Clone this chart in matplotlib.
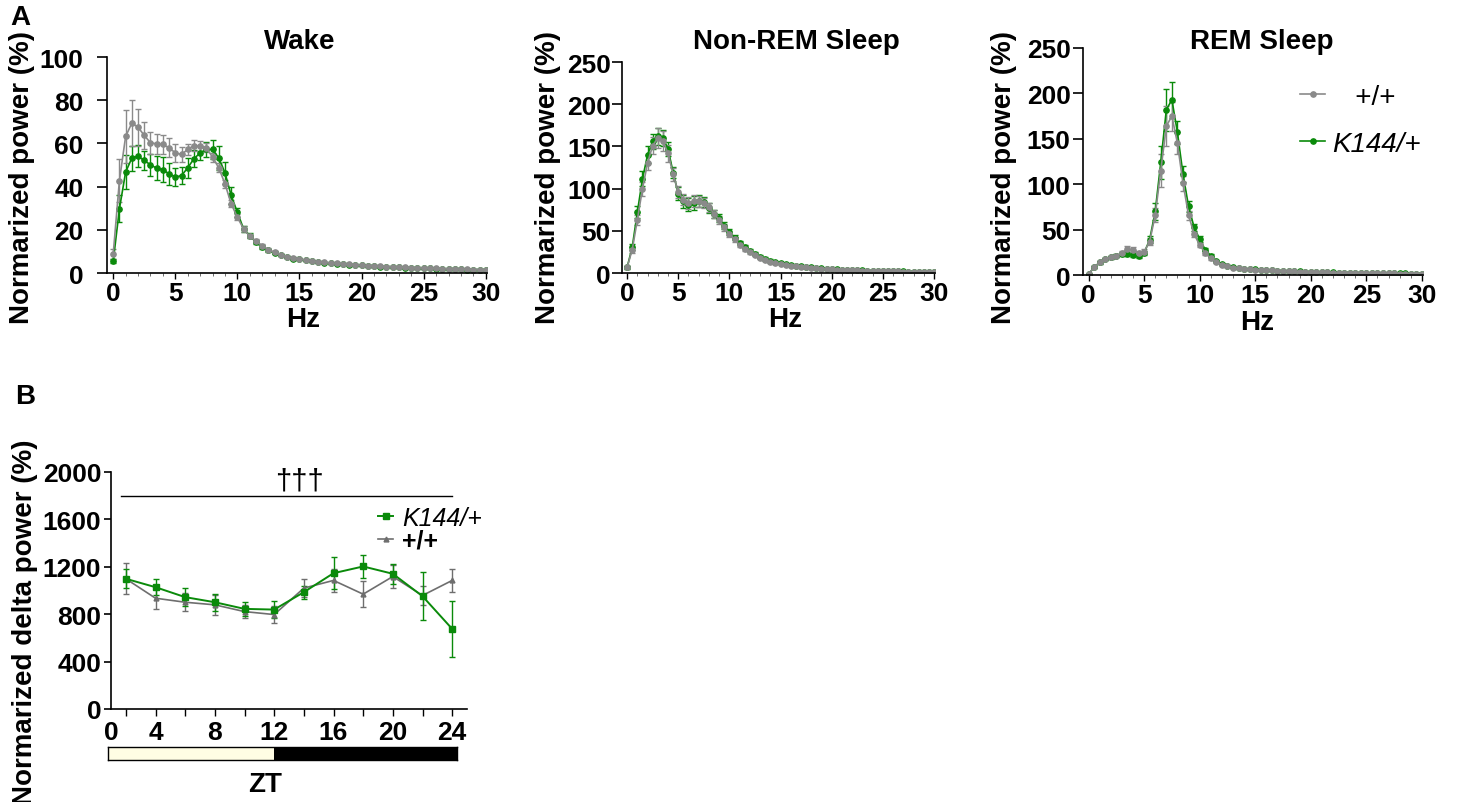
import numpy as np
import matplotlib
matplotlib.use("Agg")
import matplotlib.pyplot as plt

plt.rcParams['font.family'] = ['Liberation Sans', 'DejaVu Sans']
plt.rcParams['font.weight'] = 'bold'

# ---------------- data ----------------
# power spectra, 0.5 Hz bins from 0 to 30 Hz
freq = np.arange(0, 30.5, 0.5)

wake_wt = [8.8, 42.8, 63.2, 69.4, 67.5, 63.7, 60.3, 59.8, 59.5, 58.0,
           55.6, 54.9, 57.2, 59.0, 58.6, 58.0, 53.6, 48.7, 41.3, 32.0,
           25.8, 20.4, 17.0, 14.7, 12.7, 10.8, 9.6, 8.5, 7.6, 6.8,
           6.5, 6.0, 5.6, 5.3, 4.9, 4.6, 4.4, 4.2, 4.0, 3.8,
           3.6, 3.4, 3.3, 3.1, 3.0, 2.9, 2.7, 2.6, 2.5, 2.4,
           2.3, 2.2, 2.1, 2.0, 1.9, 1.8, 1.8, 1.7, 1.6, 1.6,
           1.5]
wake_wt_sem = [2.5, 10.0, 12.3, 10.5, 8.5, 6.3, 5.0, 4.6, 4.5, 4.3,
               4.0, 3.3, 2.7, 2.5, 2.3, 2.0, 2.0, 2.0, 1.8, 1.6,
               1.4, 1.2, 1.0, 0.9, 0.8, 0.7, 0.6, 0.5, 0.5, 0.4] + [0.3] * 31
wake_k144 = [5.4, 29.7, 46.7, 53.2, 54.1, 52.1, 50.1, 48.5, 47.8, 45.9,
             44.4, 45.1, 48.7, 52.9, 55.6, 57.2, 57.2, 53.3, 46.4, 35.9,
             28.1, 20.4, 17.3, 14.2, 11.9, 10.5, 9.3, 8.3, 7.4, 6.7,
             6.3, 5.8, 5.4, 5.1, 4.8, 4.5, 4.3, 4.1, 3.9, 3.7,
             3.5, 3.3, 3.2, 3.0, 2.9, 2.8, 2.6, 2.5, 2.4, 2.3,
             2.2, 2.1, 2.0, 1.9, 1.8, 1.8, 1.7, 1.6, 1.6, 1.5,
             1.5]
wake_k144_sem = [1.0, 6.2, 8.0, 5.8, 5.0, 4.5, 5.1, 5.6, 5.9, 5.0,
                 4.2, 3.9, 4.5, 3.9, 3.4, 3.4, 4.2, 5.6, 5.0, 3.9,
                 2.0, 1.5, 1.2, 1.0, 0.9, 0.8, 0.7, 0.6, 0.5, 0.5] + [0.3] * 31

nrem_wt = [6.7, 27.7, 62.9, 99.7, 130.5, 151.0, 160.0, 156.0, 142.0, 117.0,
           95.7, 87.0, 83.0, 85.0, 85.0, 83.0, 78.0, 70.0, 63.0, 54.0,
           46.0, 40.0, 33.0, 28.5, 24.5, 21.4, 17.8, 15.4, 13.4, 11.9,
           10.7, 9.9, 8.7, 7.9, 7.1, 6.7, 6.3, 5.8, 5.3, 4.9,
           4.5, 4.1, 3.8, 3.5, 3.2, 3.0, 2.8, 2.6, 2.4, 2.2,
           2.1, 2.0, 1.9, 1.8, 1.7, 1.6, 1.5, 1.4, 1.3, 1.3,
           1.2]
nrem_wt_sem = [1.5, 3.5, 6.0, 8.0, 9.0, 10.0, 12.0, 12.0, 10.0, 8.0,
               7.0, 7.0, 7.0, 7.0, 6.5, 6.0, 5.5, 5.0, 4.5, 4.0,
               3.5, 3.0, 2.5, 2.2, 2.0, 1.8, 1.6, 1.4, 1.2, 1.0] + [0.6] * 31
nrem_k144 = [6.7, 30.5, 72.0, 111.5, 140.0, 156.0, 162.0, 160.0, 147.0, 119.0,
             94.0, 85.0, 81.0, 83.0, 85.0, 84.0, 77.0, 70.0, 65.0, 56.0,
             49.0, 42.0, 36.0, 30.5, 26.5, 23.0, 19.5, 17.0, 14.8, 13.0,
             11.7, 10.6, 9.5, 8.6, 7.8, 7.2, 6.7, 6.2, 5.7, 5.2,
             4.8, 4.4, 4.1, 3.8, 3.5, 3.2, 3.0, 2.8, 2.6, 2.4,
             2.3, 2.2, 2.0, 1.9, 1.8, 1.7, 1.6, 1.5, 1.4, 1.4,
             1.3]
nrem_k144_sem = [1.5, 3.5, 7.0, 9.0, 10.0, 9.0, 10.0, 10.0, 8.0, 7.0,
                 8.0, 8.0, 8.0, 8.0, 7.0, 6.0, 5.5, 5.0, 4.5, 4.0,
                 3.5, 3.0, 2.5, 2.2, 2.0, 1.8, 1.6, 1.4, 1.2, 1.0] + [0.6] * 31

rem_wt = [1.0, 8.4, 14.0, 17.6, 19.5, 21.3, 24.2, 28.6, 27.9, 24.2,
          25.7, 36.7, 66.0, 115.0, 164.0, 175.0, 145.0, 101.0, 66.0, 45.0,
          33.0, 24.2, 18.4, 14.0, 11.4, 9.5, 8.1, 7.3, 6.6, 6.2,
          5.9, 5.6, 5.3, 5.0, 4.7, 4.4, 4.1, 3.9, 3.7, 3.5,
          3.3, 3.1, 3.0, 2.8, 2.7, 2.6, 2.5, 2.4, 2.3, 2.2,
          2.1, 2.0, 1.9, 1.8, 1.8, 1.7, 1.6, 1.6, 1.5, 1.5,
          1.4]
rem_wt_sem = [0.5, 1.0, 1.5, 1.5, 1.5, 1.5, 2.0, 3.0, 3.0, 2.5,
              2.5, 4.0, 8.0, 18.0, 22.0, 16.0, 12.0, 8.0, 5.0, 3.5,
              2.5, 2.0, 1.5, 1.2, 1.0, 0.8] + [0.5] * 35
rem_k144 = [1.0, 8.4, 14.0, 17.6, 19.5, 21.3, 23.0, 23.0, 22.0, 20.6,
            24.2, 39.0, 70.0, 124.0, 182.0, 193.0, 157.0, 111.0, 75.6, 52.5,
            39.6, 27.9, 21.3, 15.8, 12.1, 10.3, 8.4, 7.6, 6.9, 6.4,
            6.1, 5.8, 5.5, 5.2, 4.9, 4.6, 4.3, 4.1, 3.9, 3.7,
            3.5, 3.3, 3.1, 3.0, 2.9, 2.7, 2.6, 2.5, 2.4, 2.3,
            2.2, 2.1, 2.0, 1.9, 1.9, 1.8, 1.7, 1.7, 1.6, 1.6,
            1.5]
rem_k144_sem = [0.5, 1.0, 1.5, 1.5, 1.5, 1.5, 2.0, 2.5, 2.5, 2.0,
                2.5, 4.0, 9.0, 18.0, 23.0, 20.0, 13.0, 9.0, 6.0, 4.0,
                3.0, 2.0, 1.5, 1.2, 1.0, 0.8] + [0.5] * 35

# delta power across the day (ZT)
zt = [2, 4, 6, 8, 10, 12, 14, 16, 18, 20, 22, 24]
delta_k144 = [1099, 1028, 944, 901, 845, 839, 986, 1146, 1203, 1141, 952, 676]
delta_k144_sem = [80, 70, 76, 70, 56, 70, 56, 135, 99, 85, 203, 234]
delta_wt = [1099, 935, 901, 879, 822, 797, 1020, 1085, 969, 1118, 958, 1085]
delta_wt_sem = [130, 90, 76, 82, 56, 70, 76, 96, 107, 99, 79, 99]

light_phase = (0, 12)
dark_phase = (12, 25)

GRAY = '#8a8a8a'
GREEN = '#0a8a0a'
GRAY_B = '#6e6e6e'
CREAM = '#fffde4'
FS = 20   # labels / titles
TFS = 19  # tick labels

W, H = 1459, 803
fig = plt.figure(figsize=(W / 100, H / 100), dpi=100)


def px_axes(left, top, right, bottom):
    return fig.add_axes([left / W, 1 - bottom / H, (right - left) / W, (bottom - top) / H])


def style_axis(ax):
    for s in ('top', 'right'):
        ax.spines[s].set_visible(False)
    for s in ('left', 'bottom'):
        ax.spines[s].set_linewidth(1.2)


def spectrum(ax, wt, wt_sem, k144, k144_sem, ylim, yticks, ypad):
    style_axis(ax)
    kw = dict(marker='o', markersize=3.8, lw=1.2, elinewidth=1.0, capsize=2.0, capthick=1.0)
    lk = ax.errorbar(freq, k144, yerr=k144_sem, color=GREEN, ecolor=GREEN, **kw)
    lw_ = ax.errorbar(freq, wt, yerr=wt_sem, color=GRAY, ecolor=GRAY, **kw)
    ax.set_xlim(-0.5, 30.1)
    ax.set_ylim(*ylim)
    ax.set_xticks(range(0, 31, 5))
    ax.set_xticks(range(0, 31), minor=True)
    ax.set_yticks(yticks)
    ax.tick_params(axis='y', length=7, width=1.2, pad=ypad, labelsize=TFS)
    ax.tick_params(axis='x', which='major', length=4, width=1.0, pad=2, labelsize=TFS)
    ax.tick_params(axis='x', which='minor', length=2.5, width=0.6, color='#555555')
    for t in ax.get_xticklabels() + ax.get_yticklabels():
        t.set_fontweight('bold')
    return lw_, lk


# ---------------- panel A ----------------
ax_w = px_axes(107, 58, 487, 274)
spectrum(ax_w, wake_wt, wake_wt_sem, wake_k144, wake_k144_sem, (0, 100), range(0, 101, 20), 10)
ax_n = px_axes(622, 63, 935, 274)
spectrum(ax_n, nrem_wt, nrem_wt_sem, nrem_k144, nrem_k144_sem, (0, 250), range(0, 251, 50), 1)
ax_r = px_axes(1083, 49, 1423, 276)
h_wt, h_k = spectrum(ax_r, rem_wt, rem_wt_sem, rem_k144, rem_k144_sem, (0, 250), range(0, 251, 50), 2)

for ax, title, tx, ylx, hzx, hzy in [(ax_w, 'Wake', 300, 22, 303, 307),
                                      (ax_n, 'Non-REM Sleep', 796, 548, 785, 307),
                                      (ax_r, 'REM Sleep', 1262, 1004, 1257, 310)]:
    fig.text(tx / W, 1 - 42 / H, title, ha='center', va='center', fontsize=FS, fontweight='bold')
    ax.set_ylabel('Normarized power (%)', fontsize=FS, fontweight='bold')
    ax.yaxis.set_label_coords(ylx / W, 1 - 178 / H, transform=fig.transFigure)
    ax.yaxis.label.set_va('center')
    ax.set_xlabel('Hz', fontsize=FS, fontweight='bold')
    ax.xaxis.set_label_coords(hzx / W, 1 - hzy / H, transform=fig.transFigure)

leg = ax_r.legend([h_wt[0], h_k[0]], ['   +/+', 'K144/+'], loc='upper left',
                  bbox_to_anchor=(1300 / W, 1 - 85 / H), bbox_transform=fig.transFigure,
                  frameon=False, fontsize=FS, handlelength=0.9, handletextpad=0.25,
                  labelspacing=0.75, borderpad=0, borderaxespad=0)
for t in leg.get_texts():
    t.set_fontweight('normal')
leg.get_texts()[1].set_style('italic')

fig.text(20 / W, 1 - 18 / H, 'A', ha='center', va='center', fontsize=FS, fontweight='bold')
fig.text(25 / W, 1 - 397 / H, 'B', ha='center', va='center', fontsize=FS, fontweight='bold')

# ---------------- panel B ----------------
ax_b = px_axes(111, 473, 467, 710)
style_axis(ax_b)
hb_wt = ax_b.errorbar(zt, delta_wt, yerr=delta_wt_sem, color=GRAY_B, ecolor=GRAY_B, marker='^',
                      markersize=3.5, lw=1.2, elinewidth=1.0, capsize=2.0, capthick=1.0)
hb_k = ax_b.errorbar(zt, delta_k144, yerr=delta_k144_sem, color=GREEN, ecolor=GREEN, marker='s',
                     markersize=3.8, lw=1.4, elinewidth=1.0, capsize=2.0, capthick=1.0)
ax_b.set_xlim(1, 25)
ax_b.set_ylim(0, 2000)
ax_b.set_yticks(range(0, 2001, 400))
ax_b.set_xticks([1] + list(range(2, 25, 2)))
ax_b.set_xticklabels(['0'] + [str(z) if z % 4 == 0 else '' for z in range(2, 25, 2)])
ax_b.tick_params(axis='y', length=5, width=1.2, pad=2, labelsize=TFS)
ax_b.tick_params(axis='x', length=5, width=1.0, pad=3, labelsize=TFS)
ax_b.get_xticklines()[0].set_visible(False)
for t in ax_b.get_xticklabels() + ax_b.get_yticklabels():
    t.set_fontweight('bold')
ax_b.set_ylabel('Normarized delta power (%)', fontsize=FS, fontweight='bold')
ax_b.yaxis.set_label_coords(25 / W, 1 - 622 / H, transform=fig.transFigure)
ax_b.yaxis.label.set_va('center')

# significance bar
sig_y = 1800
sig_span = (1.7, 24)
ax_b.plot(sig_span, [sig_y, sig_y], color='black', lw=1.0)
ax_b.text(13.7, sig_y + 10, '\u2020\u2020\u2020', ha='center', va='bottom', fontsize=21,
          fontweight='normal')

legb = ax_b.legend([hb_k[0], hb_wt[0]], ['K144/+', '+/+'], loc='upper left',
                   bbox_to_anchor=(378 / W, 1 - 507 / H), bbox_transform=fig.transFigure,
                   frameon=False, fontsize=18, handlelength=0.6, handletextpad=0.35,
                   labelspacing=-0.05, borderpad=0, borderaxespad=0)
legb.get_texts()[0].set_fontweight('normal')
legb.get_texts()[0].set_style('italic')

# light / dark bar, same ZT scale as panel B (axis spans ZT 0.8 .. 24.3)
ax_ld = px_axes(108, 748, 457, 761)
ax_ld.barh(0, light_phase[1] - light_phase[0], left=light_phase[0], height=1,
           color=CREAM, edgecolor='none')
ax_ld.barh(0, dark_phase[1] - dark_phase[0], left=dark_phase[0], height=1,
           color='black', edgecolor='none')
ax_ld.set_xlim(0.8, 24.3)
ax_ld.set_ylim(-0.5, 0.5)
ax_ld.set_xticks([])
ax_ld.set_yticks([])
for s in ax_ld.spines.values():
    s.set_linewidth(1.0)
ax_b.set_xlabel('ZT', fontsize=FS, fontweight='bold')
ax_b.xaxis.set_label_coords(265 / W, 1 - 772 / H, transform=fig.transFigure)

fig.savefig('out.png', dpi=100)
